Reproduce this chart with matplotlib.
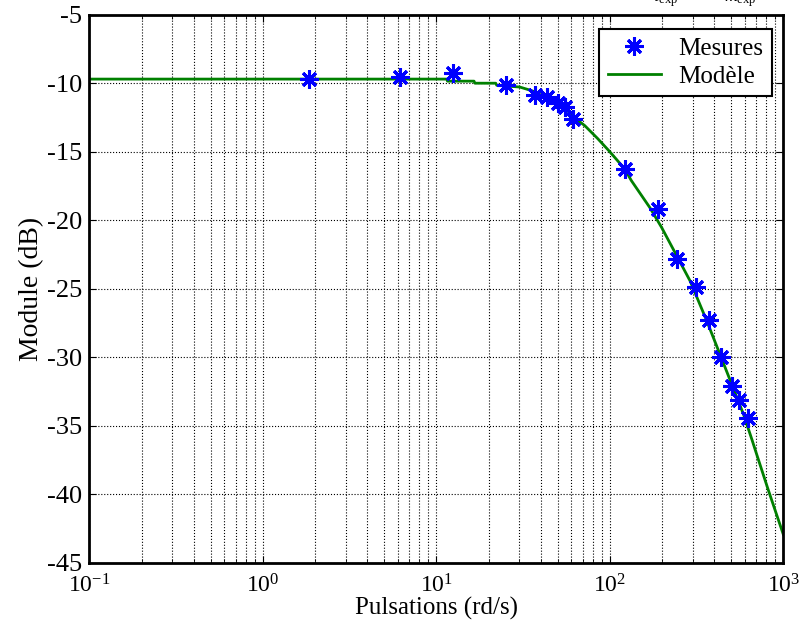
import matplotlib.pyplot as plt
from matplotlib.ticker import LogLocator, NullFormatter, FixedLocator

plt.rcParams['font.family'] = ['Liberation Serif', 'DejaVu Serif']
plt.rcParams['mathtext.fontset'] = 'custom'
plt.rcParams['mathtext.rm'] = 'Liberation Serif'
plt.rcParams['mathtext.it'] = 'Liberation Serif:italic'

# Measured points
w_mes = [1.85, 6.18, 12.5, 25.2, 37.1, 43.5, 50.2, 55.2, 61.6,
         122, 189, 245, 313, 375, 438, 504, 559, 625]
g_mes = [-9.71, -9.55, -9.24, -10.13, -10.84, -10.99, -11.45, -11.72, -12.62,
         -16.28, -19.18, -22.83, -24.89, -27.28, -30.0, -32.08, -33.12, -34.47]

# Model curve
w_mod = [0.1, 11.5, 11.6, 16.5, 16.7, 22.0, 22.3, 30.3, 35.6, 42.3, 47.0, 55.0,
         62.9, 71.8, 85.3, 100, 122, 133, 170, 199, 243, 290, 362, 431, 504,
         589, 658, 703, 820, 1000]
g_mod = [-9.7, -9.7, -9.85, -9.85, -10.0, -10.0, -10.15, -10.28, -10.55, -11.0,
         -11.3, -11.81, -12.54, -13.1, -14.05, -15.0, -16.26, -17.1, -19.07,
         -20.53, -22.59, -24.42, -27.34, -29.77, -31.96, -34.15, -35.97, -37.1,
         -39.7, -42.93]

y_ticks = [-45, -40, -35, -30, -25, -20, -15, -10, -5]
x_ticks = [0.1, 1, 10, 100, 1000]
x_labels = [r'$10^{-1}$', r'$10^{0}$', r'$10^{1}$', r'$10^{2}$', r'$10^{3}$']

fig = plt.figure(figsize=(8, 6.31), dpi=100)
ax = fig.add_axes([0.1116, 0.1082, 0.8675, 0.8685])

ax.semilogx(w_mes, g_mes, linestyle='none', marker=(8, 2, 0), markersize=13,
            markeredgewidth=2.2, color=(0, 0, 1), label='Mesures', zorder=3)
ax.semilogx(w_mod, g_mod, color=(0, 0.5, 0), linewidth=2, label='Modèle', zorder=2)

ax.set_xlim(0.1, 1000)
ax.set_ylim(-45, -5)
ax.set_yticks(y_ticks)
ax.set_yticklabels([str(v) for v in y_ticks])
ax.xaxis.set_major_locator(FixedLocator(x_ticks))
ax.set_xticklabels(x_labels)
ax.xaxis.set_minor_locator(LogLocator(base=10, subs=range(2, 10), numticks=20))
ax.xaxis.set_minor_formatter(NullFormatter())

ax.grid(True, which='major', linestyle=':', color='black', linewidth=0.8)
ax.grid(True, which='minor', axis='x', linestyle=':', color='black', linewidth=0.8)

ax.tick_params(which='both', direction='in', top=True, right=True)
ax.tick_params(axis='x', pad=8, labelsize=17)
ax.tick_params(axis='y', pad=5, labelsize=19)
ax.tick_params(which='major', length=5)
ax.tick_params(which='minor', length=3)
for s in ax.spines.values():
    s.set_linewidth(2)

ax.set_xlabel('Pulsations (rd/s)', fontsize=18, labelpad=0)
ax.set_ylabel('Module (dB)', fontsize=20, labelpad=2)

leg = ax.legend(loc='upper right', bbox_to_anchor=(0.9837, 0.974), borderaxespad=0,
                fontsize=18, fancybox=False, framealpha=1, edgecolor='black',
                handlelength=2.1, handletextpad=0.7, borderpad=0.35,
                labelspacing=0.2)
leg.get_frame().set_linewidth(1.5)

# Title cut off at the top edge of the image
fig.text(0.815, 1 - 1 / 631, r'$\tau_{\mathrm{exp}}$', fontsize=13, va='baseline')
fig.text(0.905, 1 - 1 / 631, r'$m_{\mathrm{exp}}$', fontsize=13, va='baseline')

fig.savefig('out.png', dpi=100)
